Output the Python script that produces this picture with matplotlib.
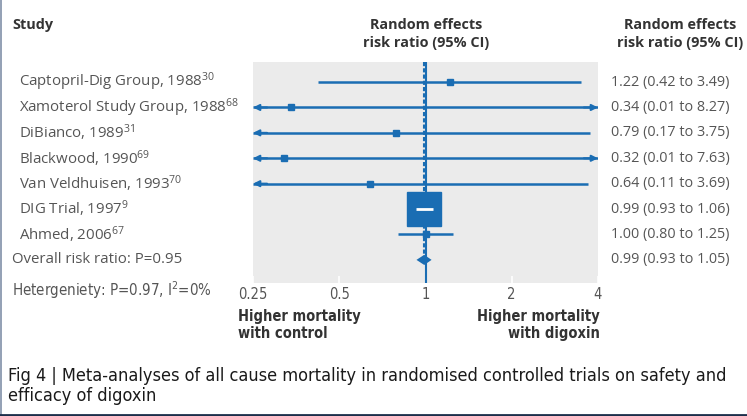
import matplotlib.pyplot as plt
import matplotlib.transforms as mtransforms
from matplotlib.lines import Line2D
import numpy as np

# data
studies = ['Captopril-Dig Group, 1988', 'Xamoterol Study Group, 1988', 'DiBianco, 1989',
           'Blackwood, 1990', 'Van Veldhuisen, 1993', 'DIG Trial, 1997', 'Ahmed, 2006']
refs = ['30', '68', '31', '69', '70', '9', '67']
rr = [1.22, 0.34, 0.79, 0.32, 0.64, 0.99, 1.00]
lo = [0.42, 0.01, 0.17, 0.01, 0.11, 0.93, 0.80]
hi = [3.49, 8.27, 3.75, 7.63, 3.69, 1.06, 1.25]
weight = [0.4, 0.05, 0.3, 0.05, 0.3, 88.0, 11.0]
overall = [0.99, 0.93, 1.05]
overall_p = 0.95
het_p = 0.97
ticks = [0.25, 0.5, 1, 2, 4]
tick_labels = ['0.25', '0.5', '1', '2', '4']

W, H = 747, 416
blue = '#1a6db3'
txt = '#333333'
grey_txt = '#555555'
reg = ['Open Sans', 'DejaVu Sans']
narrow = dict(family='DejaVu Sans', stretch='condensed')

fig = plt.figure(figsize=(W/100, H/100), dpi=100)
fig.patch.set_facecolor('white')
ax = fig.add_axes([253/W, 1-283/H, (598-253)/W, (283-62)/H])
ax.set_facecolor('#ebebeb')
ax.set_xscale('log', base=2)
ax.set_xlim(0.25, 4)
ax.set_ylim(7.91, -0.79)
for s in ax.spines.values():
    s.set_visible(False)
ax.set_yticks([])
ax.set_xticks(ticks)
ax.set_xticklabels(tick_labels, fontsize=10.5, color=grey_txt, **narrow)
ax.minorticks_off()
ax.tick_params(axis='x', direction='in', color='white', length=5, width=1.2, pad=3)

# reference line and overall dashed line
ax.axvline(1, color=blue, lw=1.5, zorder=2)
n = len(studies)
ax.plot([overall[0], overall[0]], [-0.79, n], color=blue, lw=1.5, ls=(0, (2, 1)), zorder=2)

xmin, xmax = 0.25, 4
for i in range(n):
    a = max(lo[i], xmin)
    b = min(hi[i], xmax)
    ax.plot([a, b], [i, i], color=blue, lw=1.8, solid_capstyle='butt', zorder=3)
    if lo[i] < xmin:
        ax.annotate('', xy=(xmin, i), xytext=(xmin*1.12, i),
                    arrowprops=dict(arrowstyle='-|>', color=blue, lw=1.5, mutation_scale=9,
                                    shrinkA=0, shrinkB=0), zorder=3)
    if hi[i] > xmax:
        ax.annotate('', xy=(xmax, i), xytext=(xmax/1.12, i),
                    arrowprops=dict(arrowstyle='-|>', color=blue, lw=1.5, mutation_scale=9,
                                    shrinkA=0, shrinkB=0), zorder=3)
    side = max(4.8, 25*weight[i]/max(weight))
    ax.plot(rr[i], i, marker='s', ms=side, color=blue, mec=blue, zorder=4)
    if side > 10:
        ax.plot([lo[i], hi[i]], [i, i], color='white', lw=2, solid_capstyle='butt', zorder=5)

# overall diamond
d = n
ax.fill([overall[1], overall[0], overall[2], overall[0]], [d, d-0.2, d, d+0.2],
        color=blue, lw=0, zorder=4)

trans = mtransforms.blended_transform_factory(fig.transFigure, ax.transData)
for i in range(n):
    fig.text(19/W, i, studies[i] + r'$\mathregular{^{' + refs[i] + '}}$', transform=trans,
             ha='left', va='center', fontsize=10.8, family=reg, color=grey_txt)
    fig.text(611/W, i, f'{rr[i]:.2f} ({lo[i]:.2f} to {hi[i]:.2f})', transform=trans,
             ha='left', va='center', fontsize=10.4, family=reg, color=grey_txt)
fig.text(12/W, n, f'Overall risk ratio: P={overall_p}', transform=trans,
         ha='left', va='center', fontsize=10.8, family=reg, color=grey_txt)
fig.text(611/W, n, f'{overall[0]:.2f} ({overall[1]:.2f} to {overall[2]:.2f})', transform=trans,
         ha='left', va='center', fontsize=10.4, family=reg, color=grey_txt)
fig.text(12/W, 1-290/H, f'Hetergeniety: P={het_p}, ' + r'I$\mathregular{^{2}}$=0%',
         ha='left', va='center', fontsize=10.8, color=grey_txt, **narrow)

# headers
fig.text(12/W, 1-25/H, 'Study', ha='left', va='center', fontsize=10.4, weight='bold',
         family=reg, color=txt)
fig.text(426/W, 1-34/H, 'Random effects\nrisk ratio (95% CI)', ha='center', va='center',
         fontsize=10.4, weight='bold', family=reg, color=txt, linespacing=1.3)
fig.text(680/W, 1-34/H, 'Random effects\nrisk ratio (95% CI)', ha='center', va='center',
         fontsize=10.4, weight='bold', family=reg, color=txt, linespacing=1.3)

fig.text(238/W, 1-325/H, 'Higher mortality\nwith control', ha='left', va='center',
         fontsize=10.5, weight='bold', color=txt, linespacing=1.2, **narrow)
fig.text(600/W, 1-325/H, 'Higher mortality\nwith digoxin', ha='right', va='center',
         fontsize=10.5, weight='bold', color=txt, linespacing=1.2, multialignment='right', **narrow)

fig.text(8/W, 1-386/H, 'Fig 4 | Meta-analyses of all cause mortality in randomised controlled trials on safety and\nefficacy of digoxin',
         ha='left', va='center', fontsize=13, color='#1a1a1a', linespacing=1.15, **narrow)

# frame lines of the figure panel
fig.add_artist(Line2D([1.5/W, 1.5/W], [0, 1], color='#8090a8', lw=1.2))
fig.add_artist(Line2D([0, 1], [1.2/H, 1.2/H], color='#1c2e4a', lw=2))

plt.savefig('out.png', dpi=100)
plt.close()
